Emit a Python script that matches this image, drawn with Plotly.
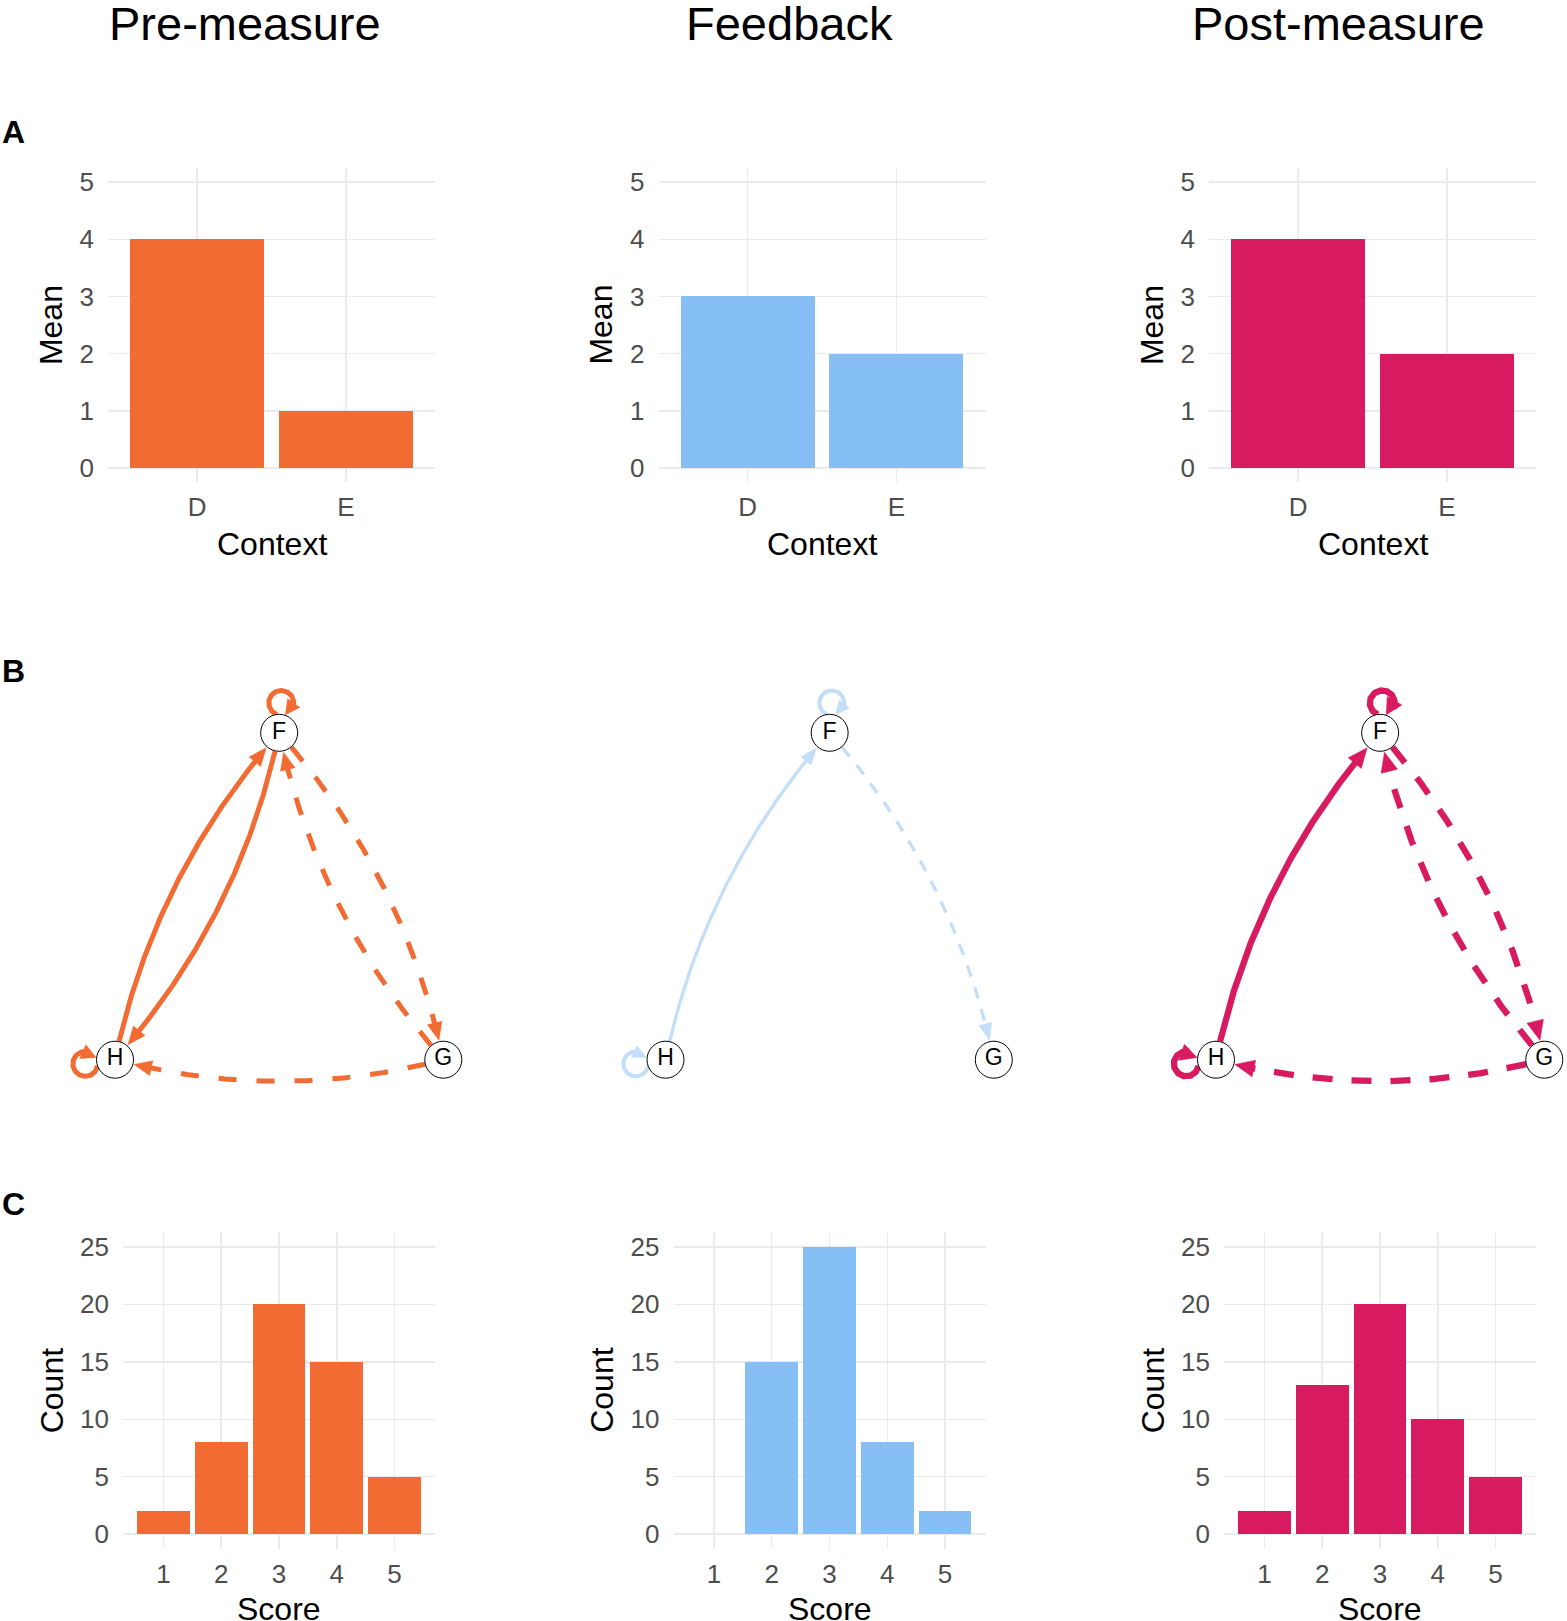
import numpy as np
import plotly.graph_objects as go

W, H = 1567, 1621
FONT = "Liberation Sans, Arial, Helvetica, sans-serif"

# ---------------- data ----------------
conditions = ["Pre-measure", "Feedback", "Post-measure"]

contexts = ["D", "E"]
mean_pre = [4, 1]
mean_feedback = [3, 2]
mean_post = [4, 2]
mean_ticks = [0, 1, 2, 3, 4, 5]

scores = [1, 2, 3, 4, 5]
count_pre = [2, 8, 20, 15, 5]
count_feedback = [0, 15, 25, 8, 2]
count_post = [2, 13, 20, 10, 5]
count_ticks = [0, 5, 10, 15, 20, 25]

node_names = ["F", "G", "H"]
node_x = [0.5, 1.0, 0.0]
node_y = [1.0, 0.0, 0.0]

edges_pre = [("F", "F", "solid"), ("H", "H", "solid"), ("H", "F", "solid"), ("F", "H", "solid"),
             ("F", "G", "dash"), ("G", "F", "dash"), ("G", "H", "dash")]
edges_feedback = [("F", "F", "solid"), ("H", "H", "solid"), ("H", "F", "solid"), ("F", "G", "dash")]
edges_post = [("F", "F", "solid"), ("H", "H", "solid"), ("H", "F", "solid"),
              ("F", "G", "dash"), ("G", "F", "dash"), ("G", "H", "dash")]

means = [mean_pre, mean_feedback, mean_post]
counts = [count_pre, count_feedback, count_post]
edges = [edges_pre, edges_feedback, edges_post]

# ---------------- style ----------------
bar_colors = ["#F26B32", "#86BFF5", "#D81B60"]
edge_colors = ["#F26B32", "#C2DEF9", "#D81B60"]
edge_widths = [5.0, 3.3, 6.3]
loop_widths = [5.0, 4.0, 6.3]
dash_styles = ["18px,20px", "12px,11px", "20px,19px"]
arrow_sizes = [(17, 15), (16, 13), (19, 17)]
loop_angle = {"F": 86, "H": 188, "G": -30}

col_shift = [0, 550.5, 1101]
A_X = (108, 435); A_Y = (167, 482)
C_X = (123, 435); C_Y = (1233, 1549.5)
NET_XH = 115.0; NET_SX = 328.3
NET_YB = 1060.0; NET_SY = 327.3
R_NODE = 18.5
K_CURVE = 0.066

GRID = "#EBEBEB"
TICKC = "#4D4D4D"


def xdom(x0, x1):
    return [x0 / W, x1 / W]


def ydom(y0, y1):
    return [1 - y1 / H, 1 - y0 / H]


fig = go.Figure()
layout = {}


def axn(i):
    return "" if i == 1 else str(i)


def base_axis():
    return dict(showgrid=True, gridcolor=GRID, gridwidth=1.5, zeroline=False,
                showline=False, ticks="", tickfont=dict(size=26, color=TICKC, family=FONT),
                fixedrange=True)


# ---------------- row A: mean bars ----------------
for c in range(3):
    i = 1 + c
    fig.add_trace(go.Bar(x=contexts, y=means[c], width=0.9, marker=dict(color=bar_colors[c], line=dict(width=0)),
                         xaxis="x" + axn(i), yaxis="y" + axn(i), showlegend=False, hoverinfo="skip"))
    xa = base_axis(); xa.update(domain=xdom(A_X[0] + col_shift[c], A_X[1] + col_shift[c]), type="category",
                                range=[-0.6, 1.6], anchor="y" + axn(i), ticklabelstandoff=7)
    ya = base_axis(); ya.update(domain=ydom(*A_Y), range=[-0.25, 5.25], tickvals=mean_ticks,
                                anchor="x" + axn(i), ticklabelstandoff=13)
    layout["xaxis" + axn(i)] = xa
    layout["yaxis" + axn(i)] = ya

# ---------------- row C: score histograms ----------------
for c in range(3):
    i = 7 + c
    fig.add_trace(go.Bar(x=scores, y=counts[c], width=0.91, marker=dict(color=bar_colors[c], line=dict(width=0)),
                         xaxis="x" + axn(i), yaxis="y" + axn(i), showlegend=False, hoverinfo="skip"))
    xa = base_axis(); xa.update(domain=xdom(C_X[0] + col_shift[c], C_X[1] + col_shift[c]),
                                range=[0.3, 5.7], tickvals=scores, anchor="y" + axn(i), ticklabelstandoff=7)
    ya = base_axis(); ya.update(domain=ydom(*C_Y), range=[-1.25, 26.25], tickvals=count_ticks,
                                anchor="x" + axn(i), ticklabelstandoff=13)
    layout["xaxis" + axn(i)] = xa
    layout["yaxis" + axn(i)] = ya


# ---------------- row B: networks ----------------
def bezier(p0, p2, k, n=400):
    d = p2 - p0
    L = np.hypot(*d)
    nrm = np.array([-d[1], d[0]]) / L
    ctrl = (p0 + p2) / 2 + nrm * 2 * k * L
    t = np.linspace(0, 1, n)[:, None]
    return (1 - t) ** 2 * p0 + 2 * (1 - t) * t * ctrl + t ** 2 * p2


def loop_path(p, ang_deg, d=30.0, r=12.5, n=400):
    u = np.array([np.cos(np.radians(ang_deg)), np.sin(np.radians(ang_deg))])
    ctr = p + u * d
    cosb = (d * d + r * r - R_NODE ** 2) / (2 * d * r)
    b = np.degrees(np.arccos(cosb))
    th = np.radians(np.linspace(ang_deg + 180 - b, ang_deg - 180 + b, n))
    return ctr + r * np.column_stack([np.cos(th), np.sin(th)])


def trim(pts, pa, pb, alen):
    da = np.hypot(*(pts - pa).T)
    db = np.hypot(*(pts - pb).T)
    i0 = int(np.argmax(da >= R_NODE - 0.5))
    j = int(np.where(db >= R_NODE + 0.5)[0][-1])
    tip = pts[j]
    dt = np.hypot(*(pts[:j + 1] - tip).T)
    k = int(np.where(dt >= alen)[0][-1])
    kl = int(np.where(dt >= alen * 0.6)[0][-1])
    return pts[i0:kl + 1], tip, pts[k]


for c in range(3):
    i = 4 + c
    x0 = NET_XH + col_shift[c]
    layout["xaxis" + axn(i)] = dict(domain=xdom(x0 - 55, x0 + NET_SX + 22), visible=False, fixedrange=True,
                                    range=[-55 / NET_SX, 1 + 22 / NET_SX], anchor="y" + axn(i))
    layout["yaxis" + axn(i)] = dict(domain=ydom(680, 1090), visible=False, fixedrange=True,
                                    range=[-30 / NET_SY, 380 / NET_SY], anchor="x" + axn(i))
    pos = {n: np.array([node_x[k] * NET_SX, node_y[k] * NET_SY]) for k, n in enumerate(node_names)}
    alen, awid = arrow_sizes[c]
    for (a, b, lty) in edges[c]:
        pa, pb = pos[a], pos[b]
        if a == b:
            pts = loop_path(pa, loop_angle[a])
            al, aw, lw = alen * 0.85, awid, loop_widths[c]
        else:
            pts = bezier(pa, pb, K_CURVE)
            al, aw, lw = alen, awid, edge_widths[c]
        line, tip, base = trim(pts, pa, pb, al)
        fig.add_trace(go.Scatter(x=line[:, 0] / NET_SX, y=line[:, 1] / NET_SY, mode="lines",
                                 line=dict(color=edge_colors[c], width=lw,
                                           dash=("solid" if lty == "solid" else dash_styles[c])),
                                 xaxis="x" + axn(i), yaxis="y" + axn(i), showlegend=False,
                                 hoverinfo="skip", cliponaxis=False))
        u = (tip - base) / np.hypot(*(tip - base))
        pp = np.array([-u[1], u[0]])
        tri = np.array([tip, base + pp * aw / 2, base - pp * aw / 2, tip])
        fig.add_trace(go.Scatter(x=tri[:, 0] / NET_SX, y=tri[:, 1] / NET_SY, mode="lines", fill="toself",
                                 fillcolor=edge_colors[c], line=dict(color=edge_colors[c], width=0.5),
                                 xaxis="x" + axn(i), yaxis="y" + axn(i), showlegend=False,
                                 hoverinfo="skip", cliponaxis=False))
    fig.add_trace(go.Scatter(x=node_x, y=node_y, mode="markers+text", text=node_names,
                             textposition="middle center",
                             textfont=dict(size=23, color="black", family=FONT),
                             marker=dict(size=37, color="white", line=dict(color="black", width=1)),
                             xaxis="x" + axn(i), yaxis="y" + axn(i), showlegend=False,
                             hoverinfo="skip", cliponaxis=False))

# ---------------- text annotations ----------------
ann = []
title_cx = [244.5, 789, 1338.5]
for c in range(3):
    ann.append(dict(text=conditions[c], x=title_cx[c] / W, y=1 - 23 / H, xref="paper", yref="paper",
                    xanchor="center", yanchor="middle", showarrow=False,
                    font=dict(size=47, color="black", family=FONT)))
    ann.append(dict(text="Context", x=((A_X[0] + A_X[1]) / 2 + col_shift[c]) / W, y=1 - 544 / H,
                    xref="paper", yref="paper", xanchor="center", yanchor="middle", showarrow=False,
                    font=dict(size=32, color="black", family=FONT)))
    ann.append(dict(text="Mean", x=(51 + col_shift[c]) / W, y=1 - 324.5 / H, textangle=-90,
                    xref="paper", yref="paper", xanchor="center", yanchor="middle", showarrow=False,
                    font=dict(size=32, color="black", family=FONT)))
    ann.append(dict(text="Score", x=((C_X[0] + C_X[1]) / 2 + col_shift[c]) / W, y=1 - 1610 / H,
                    xref="paper", yref="paper", xanchor="center", yanchor="middle", showarrow=False,
                    font=dict(size=32, color="black", family=FONT)))
    ann.append(dict(text="Count", x=(52 + col_shift[c]) / W, y=1 - 1391 / H, textangle=-90,
                    xref="paper", yref="paper", xanchor="center", yanchor="middle", showarrow=False,
                    font=dict(size=32, color="black", family=FONT)))

for lab, yc in zip(["A", "B", "C"], [131.5, 671, 1204]):
    ann.append(dict(text="<b>%s</b>" % lab, x=0, y=1 - yc / H, xref="paper", yref="paper",
                    xanchor="left", yanchor="middle", showarrow=False,
                    font=dict(size=32, color="black", family=FONT)))

fig.update_layout(width=W, height=H, margin=dict(l=0, r=0, t=0, b=0, pad=0),
                  paper_bgcolor="white", plot_bgcolor="white", showlegend=False,
                  font=dict(family=FONT), annotations=ann, bargap=0, hovermode=False, **layout)

fig.write_html("out.html", config={"displayModeBar": False, "staticPlot": True},
               post_script="document.body.style.margin='0px';document.body.style.padding='0px';"
                           "document.documentElement.style.overflow='hidden';")
